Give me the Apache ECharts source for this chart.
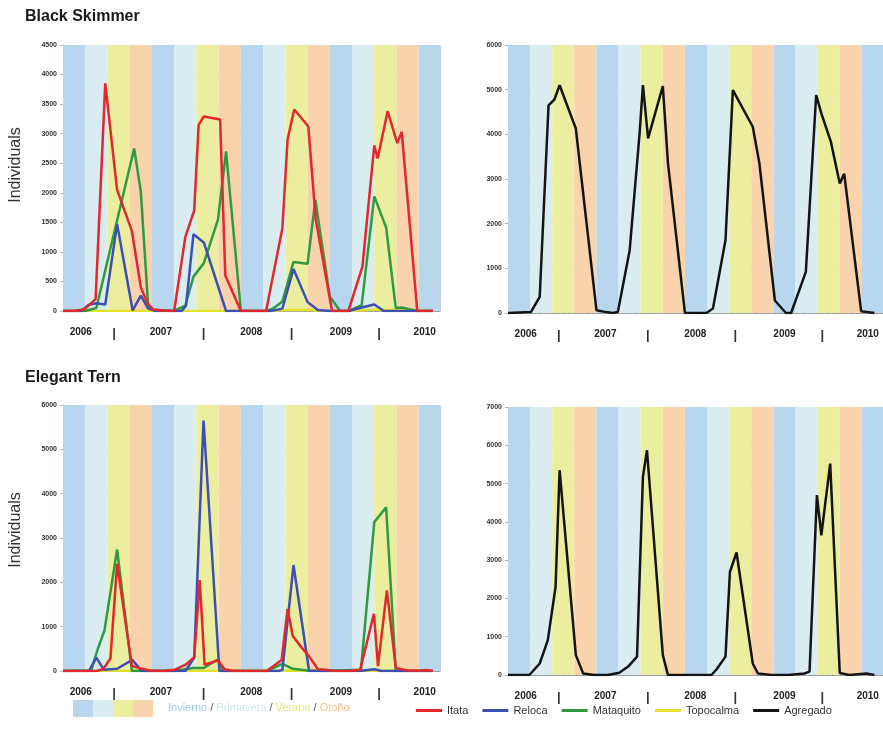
<!DOCTYPE html>
<html><head><meta charset="utf-8">
<script src="https://cdn.jsdelivr.net/npm/echarts@6/dist/echarts.min.js"></script>
<style>html,body{margin:0;padding:0;background:#fff}#c{width:883px;height:746px}</style>
</head><body><div id="c"></div><script>
// x values: months since 1 June 2006
const seasons = ['Invierno', 'Primavera', 'Verano', 'Otoño'];
const seasonColors = ['#b8d7ef', '#d9ecf0', '#ebee9f', '#f8d3ac'];
const seasonTextColors = ['#9dc7ec', '#cfe7ee', '#e6e66c', '#f4bf88'];
const bandCount = 17;          // 3-month seasons from Jun 2006 to Aug 2010
const monthsPerBand = 3;
const yearTickMonths = [2.4, 6.9, 13.2, 18.95, 25.4, 30.85, 37.5, 42.65, 48.8];
const yearTickLabels = ['2006', '|', '2007', '|', '2008', '|', '2009', '|', '2010'];
const seriesNames = ['Itata', 'Reloca', 'Mataquito', 'Topocalma', 'Agregado'];
const seriesColors = ['#e3272b', '#3d4fb3', '#2f9a3f', '#e2e22a', '#141414'];

// Black Skimmer
const bsItata = [[0,0],[1.5,0],[2.9,30],[4.4,200],[5.7,3850],[7.3,2050],[9.3,1350],[10.5,400],[11.4,130],[12.2,20],[13.5,10],[15.0,0],[16.5,1250],[17.7,1700],[18.3,3150],[19.0,3290],[21.2,3240],[21.9,600],[24.0,0],[25.6,0],[27.4,0],[29.6,1400],[30.3,2900],[31.2,3410],[33.1,3120],[34.1,1550],[35.3,700],[36.3,0],[37.4,0],[38.5,0],[40.4,750],[42.0,2800],[42.45,2580],[43.8,3380],[45.1,2840],[45.7,3030],[47.8,0],[48.9,0],[49.9,0]];
const bsReloca = [[0,0],[2.5,0],[3.4,100],[4.5,130],[5.7,110],[7.3,1470],[9.4,10],[10.5,260],[11.5,40],[12.5,0],[16.0,0],[16.6,90],[17.6,1300],[19.0,1160],[22.0,0],[24.0,0],[28.0,0],[29.6,40],[31.1,710],[33.0,150],[34.4,15],[36.0,0],[38.5,0],[40.3,60],[42.0,110],[43.3,0],[49.9,0]];
const bsMataquito = [[0,0],[3.0,0],[4.5,50],[9.6,2750],[10.5,2020],[11.5,60],[12.3,20],[15.0,0],[16.5,90],[17.6,580],[19.0,810],[20.9,1540],[22.0,2700],[24.0,0],[27.5,0],[28.3,40],[29.6,160],[31.1,830],[33.0,800],[34.05,1880],[36.0,240],[37.4,0],[38.6,0],[40.3,100],[42.0,1940],[43.6,1410],[44.9,50],[45.7,60],[47.8,0],[49.9,0]];
const bsTopocalma = [[0,0],[12,0],[24,0],[27.5,0],[31,20],[33,15],[36,5],[38.6,0],[42,25],[45,15],[47.8,5],[49.9,0]];
const bsAgregado = [[0,0],[3.1,20],[4.3,360],[5.5,4650],[6.3,4780],[7.0,5100],[9.2,4130],[12.0,60],[13.3,20],[14.2,0],[14.9,20],[16.5,1400],[17.85,4020],[18.3,5100],[19.0,3910],[21.0,5080],[21.7,3350],[24.0,0],[26.9,0],[27.8,100],[29.5,1630],[30.5,4990],[33.2,4170],[34.1,3350],[36.2,280],[37.7,0],[38.4,0],[40.4,920],[41.8,4880],[42.5,4470],[43.8,3830],[45.0,2900],[45.6,3120],[47.9,40],[49.7,0]];

// Elegant Tern
const etItata = [[0,0],[4.5,0],[5.4,40],[6.4,280],[7.3,2420],[9.3,110],[10.5,60],[11.7,10],[13.5,0],[15.1,30],[16.6,150],[17.7,310],[18.45,2050],[19.1,140],[20.9,240],[21.8,40],[23.0,0],[27.5,0],[29.5,250],[30.3,1400],[31.0,790],[32.1,550],[33.2,330],[34.4,40],[35.8,20],[36.5,0],[38.6,0],[40.1,30],[41.95,1290],[42.5,110],[43.7,1820],[44.9,70],[46.3,15],[48.0,5],[49.0,20],[49.9,0]];
const etReloca = [[0,0],[3.5,0],[4.5,300],[5.5,30],[7.3,50],[9.35,250],[10.6,0],[16.5,0],[17.7,300],[18.96,5650],[21.1,0],[29.0,0],[29.6,20],[31.1,2390],[33.2,0],[40.0,0],[42.0,40],[43.0,0],[49.9,0]];
const etMataquito = [[0,0],[3.8,10],[4.7,500],[5.6,920],[7.3,2740],[9.3,0],[15.0,0],[17.5,70],[19.0,70],[20.9,260],[21.6,0],[27.5,0],[29.6,160],[31.0,50],[33.0,10],[35.0,0],[40.2,30],[42.0,3360],[43.6,3690],[44.9,0],[49.9,0]];
const etTopocalma = [[0,0],[10,0],[20,0],[30,10],[40,0],[45,5],[49.9,0]];
const etAgregado = [[0,0],[2.9,0],[4.3,300],[5.4,910],[6.45,2300],[7.0,5350],[9.2,520],[10.2,40],[11.7,0],[13.5,0],[15.1,60],[16.3,220],[17.5,480],[18.3,5175],[18.85,5870],[21.0,520],[21.7,0],[24.0,0],[27.6,0],[28.3,150],[29.5,480],[30.1,2690],[31.0,3200],[33.2,300],[33.9,40],[35.7,0],[38.0,0],[40.2,40],[40.9,90],[41.9,4700],[42.5,3650],[43.7,5520],[45.0,50],[46.3,0],[48.6,40],[49.7,0]];

const yMax = [4500, 6000, 6000, 7000];
const yInterval = [500, 1000, 1000, 1000];

const FONT = 'Liberation Sans, Arial, sans-serif';
const chart = echarts.init(document.getElementById('c'), null, {renderer: 'canvas'});

const grids = [
  {left: 63, top: 45, width: 378, height: 266},
  {left: 508, top: 45, width: 376, height: 268},
  {left: 63, top: 405, width: 378, height: 266},
  {left: 508, top: 407, width: 376, height: 268}
].map(g => Object.assign({outerBoundsMode: 'none', containLabel: false}, g));

const xAxes = grids.map((g, i) => ({
  type: 'value', gridIndex: i, min: 0, max: bandCount * monthsPerBand,
  splitLine: {show: false},
  axisTick: {show: false},
  axisLine: {show: true, lineStyle: {color: '#9a9a9a', type: 'dashed', width: 1}},
  axisLabel: {
    customValues: yearTickMonths,
    margin: 16,
    formatter: function (v) {
      let idx = yearTickMonths.findIndex(t => Math.abs(t - v) < 0.001);
      let s = idx >= 0 ? yearTickLabels[idx] : '';
      return s === '|' ? '{bar|' + s + '}' : s;
    },
    fontSize: 10, fontWeight: 'bold', color: '#222', fontFamily: FONT,
    rich: {bar: {fontSize: 13, fontWeight: 'bold', color: '#333', fontFamily: FONT}}
  }
}));

const yAxes = grids.map((g, i) => ({
  type: 'value', gridIndex: i, min: 0, max: yMax[i], interval: yInterval[i],
  axisLine: {show: true, lineStyle: {color: '#b5b5b5'}},
  axisTick: {show: true, length: 3, lineStyle: {color: '#b5b5b5'}},
  splitLine: {show: true, lineStyle: {color: '#a3b9cc', width: 1}},
  axisLabel: {fontSize: 7, fontWeight: 'bold', color: '#333', margin: 6, fontFamily: FONT,
    formatter: v => String(v)}
}));

function bandSeries(gi) {
  const areas = [];
  for (let b = 0; b < bandCount; b++) {
    areas.push([
      {xAxis: b * monthsPerBand, itemStyle: {color: seasonColors[b % seasons.length]}},
      {xAxis: (b + 1) * monthsPerBand}
    ]);
  }
  return {type: 'line', name: 'bands' + gi, xAxisIndex: gi, yAxisIndex: gi, data: [], z: -1, silent: true,
    markArea: {silent: true, itemStyle: {opacity: 1}, data: areas}};
}

function lineSeries(idx, data, gi) {
  return {type: 'line', name: seriesNames[idx], data: data, xAxisIndex: gi, yAxisIndex: gi,
    symbol: 'none', showSymbol: false, smooth: false, z: 3,
    lineStyle: {color: seriesColors[idx], width: 2.5}, itemStyle: {color: seriesColors[idx]}};
}

const series = [
  bandSeries(0), bandSeries(1), bandSeries(2), bandSeries(3),
  lineSeries(3, bsTopocalma, 0), lineSeries(2, bsMataquito, 0), lineSeries(1, bsReloca, 0), lineSeries(0, bsItata, 0),
  lineSeries(4, bsAgregado, 1),
  lineSeries(3, etTopocalma, 2), lineSeries(2, etMataquito, 2), lineSeries(1, etReloca, 2), lineSeries(0, etItata, 2),
  lineSeries(4, etAgregado, 3)
];

const swatches = seasons.map((s, i) => ({
  type: 'rect', shape: {x: 73 + i * 20, y: 700, width: 20, height: 17},
  style: {fill: seasonColors[i]}
}));
const seasonRich = {sl: {fill: '#555', fontSize: 11, fontFamily: FONT}};
let seasonText = '';
seasons.forEach((s, i) => {
  seasonRich['s' + i] = {fill: seasonTextColors[i], fontSize: 11, fontFamily: FONT};
  seasonText += '{s' + i + '|' + s + '}' + (i < seasons.length - 1 ? '{sl| / }' : '');
});

const option = {
  animation: false,
  backgroundColor: '#ffffff',
  title: [
    {text: 'Black Skimmer', left: 20, top: 4, textStyle: {fontSize: 16, fontWeight: 'bold', color: '#1a1a1a', fontFamily: FONT}},
    {text: 'Elegant Tern', left: 20, top: 365, textStyle: {fontSize: 16, fontWeight: 'bold', color: '#1a1a1a', fontFamily: FONT}}
  ],
  grid: grids,
  xAxis: xAxes,
  yAxis: yAxes,
  legend: {
    data: seriesNames, left: 411, top: 700, icon: 'rect', itemWidth: 26, itemHeight: 3, itemGap: 14,
    textStyle: {fontSize: 11, color: '#333', fontFamily: FONT}
  },
  graphic: [
    {type: 'text', x: 16, y: 165, rotation: Math.PI / 2, style: {text: 'Individuals', fontSize: 16, fill: '#333', align: 'center', verticalAlign: 'middle', fontFamily: FONT}},
    {type: 'text', x: 16, y: 530, rotation: Math.PI / 2, style: {text: 'Individuals', fontSize: 16, fill: '#333', align: 'center', verticalAlign: 'middle', fontFamily: FONT}},
    ...swatches,
    {type: 'text', x: 168, y: 708, style: {text: seasonText, rich: seasonRich, fontSize: 11, verticalAlign: 'middle', fontFamily: FONT}}
  ],
  series: series
};
chart.setOption(option);
</script></body></html>
